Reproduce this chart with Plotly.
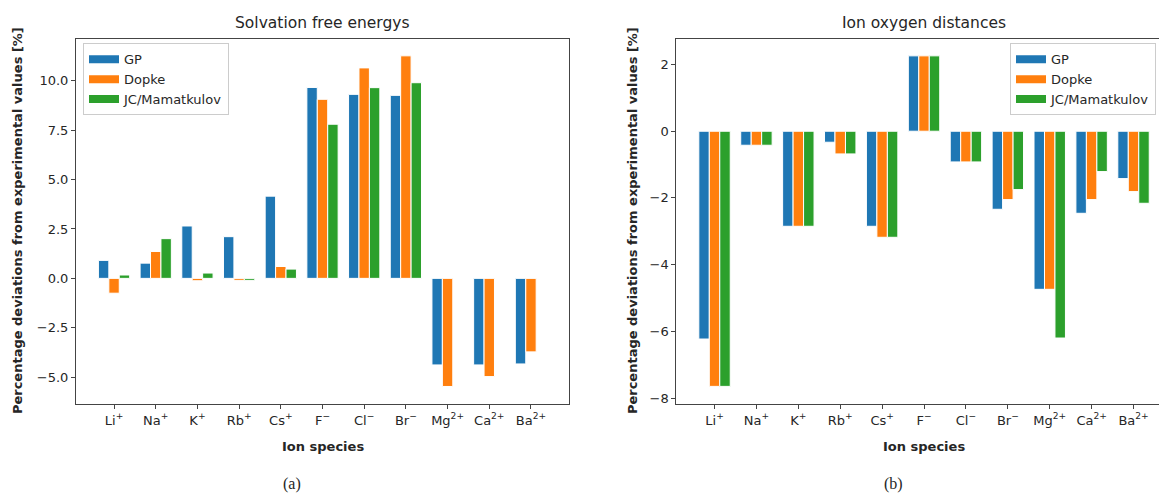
import plotly.graph_objects as go

ions = ["Li<sup>+</sup>", "Na<sup>+</sup>", "K<sup>+</sup>", "Rb<sup>+</sup>", "Cs<sup>+</sup>",
        "F<sup>−</sup>", "Cl<sup>−</sup>", "Br<sup>−</sup>",
        "Mg<sup>2+</sup>", "Ca<sup>2+</sup>", "Ba<sup>2+</sup>"]
series_names = ["GP", "Dopke", "JC/Mamatkulov"]

# Solvation free energies: percentage deviations
solv_gp = [0.91, 0.77, 2.65, 2.11, 4.16, 9.66, 9.31, 9.26, -4.38, -4.38, -4.33]
solv_dopke = [-0.75, 1.36, -0.12, -0.1, 0.60, 9.06, 10.65, 11.26, -5.47, -4.97, -3.72]
solv_jc = [0.17, 2.01, 0.27, -0.1, 0.47, 7.80, 9.65, 9.90, None, None, None]

# Ion-oxygen distances: percentage deviations
dist_gp = [-6.23, -0.42, -2.85, -0.33, -2.85, 2.26, -0.92, -2.34, -4.74, -2.46, -1.42]
dist_dopke = [-7.65, -0.42, -2.85, -0.68, -3.18, 2.26, -0.92, -2.05, -4.74, -2.05, -1.81]
dist_jc = [-7.65, -0.42, -2.85, -0.68, -3.18, 2.26, -0.92, -1.75, -6.20, -1.21, -2.16]

colors = ["#1f77b4", "#ff7f0e", "#2ca02c"]

W, H = 1159, 494
def px(x):
    return x / W
def py(y):
    return 1 - y / H

FONT = "DejaVu Sans"
AX = "#444444"
TXT = "#262626"

fig = go.Figure()

for vals, name, c in zip([solv_gp, solv_dopke, solv_jc], series_names, colors):
    fig.add_trace(go.Bar(x=ions, y=vals, name=name, marker=dict(color=c, line=dict(color="white", width=1)),
                         xaxis="x", yaxis="y", showlegend=False, offsetgroup=name))
for vals, name, c in zip([dist_gp, dist_dopke, dist_jc], series_names, colors):
    fig.add_trace(go.Bar(x=ions, y=vals, name=name, marker=dict(color=c, line=dict(color="white", width=1)),
                         xaxis="x2", yaxis="y2", showlegend=False, offsetgroup=name))

# legend entries (matplotlib-like wide patches)
for leg, xa, ya in [("legend", "x", "y"), ("legend2", "x2", "y2")]:
    for name, c in zip(series_names, colors):
        fig.add_trace(go.Scatter(x=[None], y=[None], mode="lines", name=name,
                                 line=dict(color=c, width=8), legend=leg, xaxis=xa, yaxis=ya,
                                 showlegend=True))

ydom = [py(405.7), py(39)]
common_x = dict(showline=True, linecolor=AX, linewidth=1, ticks="outside", ticklen=4, tickcolor=AX,
                tickwidth=1, showgrid=False, zeroline=False, mirror=True,
                tickfont=dict(family=FONT, size=13, color=TXT), type="category")
common_y = dict(showline=True, linecolor=AX, linewidth=1, ticks="outside", ticklen=4, tickcolor=AX,
                tickwidth=1, showgrid=False, zeroline=False,
                tickfont=dict(family=FONT, size=13, color=TXT))

fig.update_layout(
    width=W, height=H, margin=dict(l=0, r=0, t=0, b=0),
    paper_bgcolor="white", plot_bgcolor="white",
    barmode="group", bargap=0.25, bargroupgap=0,
    font=dict(family=FONT, size=13, color=TXT),
    xaxis=dict(domain=[px(76), px(569)], range=[-0.9125, 10.9125], anchor="y", **common_x),
    yaxis=dict(domain=ydom, range=[-6.36, 12.12], dtick=2.5, tick0=0, tickformat=".1f",
               mirror=True, anchor="x", **common_y),
    xaxis2=dict(domain=[px(676.3), 1.0], range=[-0.9125, 10.608], anchor="y2", **common_x),
    yaxis2=dict(domain=ydom, range=[-8.18, 2.77], dtick=2, tick0=0, tickformat="d",
                mirror=False, anchor="x2", **common_y),
    legend=dict(x=px(83), y=py(43.5), xanchor="left", yanchor="top",
                bgcolor="rgba(255,255,255,0.8)", bordercolor="#cccccc", borderwidth=1,
                font=dict(family=FONT, size=13, color=TXT)),
    legend2=dict(x=px(1010), y=py(43.5), xanchor="left", yanchor="top",
                 bgcolor="rgba(255,255,255,0.8)", bordercolor="#cccccc", borderwidth=1,
                 font=dict(family=FONT, size=13, color=TXT)),
)

ann = []
def add_text(text, x, y, size, angle=0, family=FONT, bold=False):
    ann.append(dict(text=("<b>%s</b>" % text) if bold else text, x=px(x), y=py(y),
                    xref="paper", yref="paper", showarrow=False, textangle=angle,
                    xanchor="center", yanchor="middle",
                    font=dict(family=family, size=size, color=TXT)))

add_text("Solvation free energys", 322.5, 23, 15.5)
add_text("Ion oxygen distances", 923.7, 23, 15.5)
add_text("Ion species", 322.5, 448, 13, bold=True)
add_text("Ion species", 923.7, 448, 13, bold=True)
add_text("Percentage deviations from experimental values [%]", 17, 222, 13, angle=-90, bold=True)
add_text("Percentage deviations from experimental values [%]", 632, 222, 13, angle=-90, bold=True)
add_text("(a)", 291.5, 486, 16, family="Liberation Serif")
add_text("(b)", 893, 486, 16, family="Liberation Serif")
fig.update_layout(annotations=ann)

fig.write_html("out.html")
